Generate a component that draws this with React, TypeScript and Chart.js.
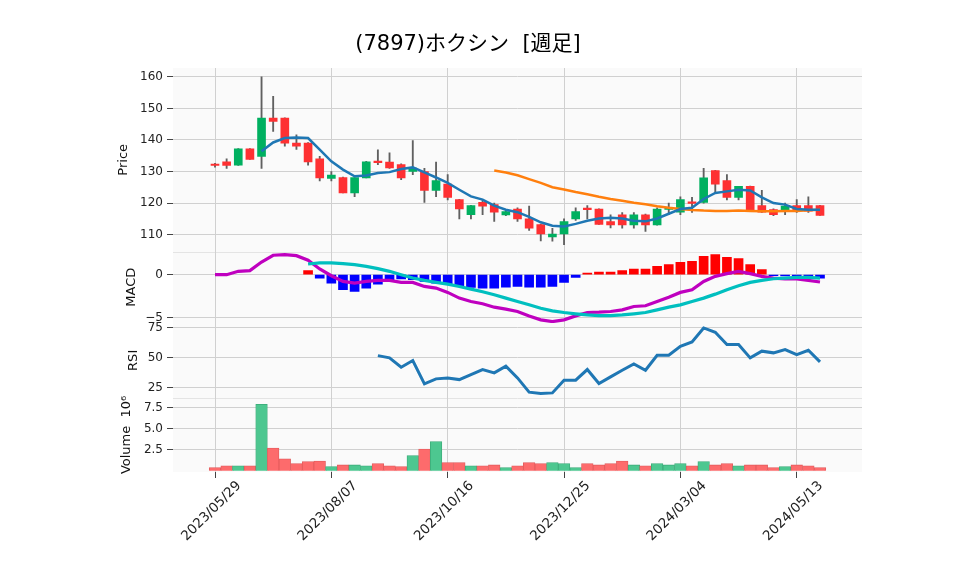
import React, { useEffect, useRef } from 'react';
import { Chart, registerables } from 'chart.js';

Chart.register(...registerables);

const TITLE = '(7897)ホクシン  [週足]';

const xTickPos = [0, 10, 20, 30, 40, 50];
const xTickLabels = ['2023/05/29', '2023/08/07', '2023/10/16', '2023/12/25', '2024/03/04', '2024/05/13'];

const priceTicks = [110, 120, 130, 140, 150, 160];
const macdTicks = [-5, 0];
const rsiTicks = [25, 50, 75];
const volTicks = [2.5, 5, 7.5];

const opens = [132.1, 133.1, 132.0, 137.2, 134.8, 146.9, 146.9, 139.0, 139.0, 134.0,
  127.8, 128.1, 123.2, 128.0, 133.2, 133.0, 132.2, 130.0, 130.0, 124.0,
  126.0, 121.1, 116.3, 120.2, 119.5, 116.2, 118.1, 115.0, 113.2, 109.3,
  110.2, 115.0, 118.2, 118.1, 114.1, 116.3, 113.1, 116.3, 113.1, 118.0,
  117.1, 120.1, 120.2, 130.3, 127.1, 121.8, 125.3, 119.2, 117.9, 117.9,
  119.2, 119.2, 119.2];
const highs = [132.6, 134.0, 137.3, 137.3, 160.0, 153.8, 147.0, 141.6, 139.2, 134.8,
  130.0, 128.2, 128.1, 133.2, 136.9, 135.9, 132.4, 139.8, 131.0, 133.0,
  129.0, 121.2, 119.3, 121.0, 120.0, 118.0, 118.5, 119.0, 113.3, 112.0,
  115.0, 118.5, 119.2, 118.2, 116.3, 117.0, 117.0, 116.5, 118.5, 120.0,
  122.0, 121.8, 131.0, 130.4, 129.0, 125.3, 125.4, 124.0, 118.2, 120.0,
  121.1, 122.0, 119.3];
const lows = [131.4, 131.0, 131.9, 133.8, 131.0, 142.7, 138.0, 137.0, 132.0, 127.0,
  127.0, 123.2, 122.0, 128.0, 132.2, 131.0, 127.4, 129.0, 120.2, 122.0,
  121.0, 115.0, 115.0, 116.3, 114.2, 116.0, 114.2, 111.3, 108.0, 107.9,
  106.8, 114.5, 115.0, 113.2, 112.1, 112.0, 112.0, 111.0, 113.0, 116.3,
  116.3, 117.0, 120.0, 123.2, 121.0, 121.0, 117.9, 117.0, 116.0, 116.3,
  117.0, 117.0, 116.1];
const closes = [131.9, 131.9, 137.2, 133.8, 146.9, 145.9, 139.0, 138.0, 133.0, 128.0,
  128.9, 123.2, 128.1, 133.1, 132.8, 131.1, 128.0, 131.1, 124.0, 127.1,
  121.8, 118.1, 119.2, 119.0, 117.1, 117.3, 115.0, 112.0, 110.2, 110.2,
  114.1, 117.3, 117.9, 113.2, 113.1, 113.1, 116.3, 113.1, 118.1, 118.3,
  121.1, 119.9, 128.0, 126.0, 121.8, 125.3, 117.9, 117.1, 116.3, 119.0,
  117.4, 117.4, 116.1];

// volume in units of 10^6
const volumes = [0.38, 0.58, 0.58, 0.58, 7.88, 2.69, 1.42, 0.85, 1.08, 1.15,
  0.5, 0.69, 0.69, 0.58, 0.85, 0.58, 0.5, 1.81, 2.58, 3.46,
  0.96, 0.96, 0.58, 0.58, 0.69, 0.38, 0.58, 0.96, 0.85, 0.96,
  0.85, 0.38, 0.85, 0.69, 0.85, 1.15, 0.69, 0.58, 0.85, 0.69,
  0.85, 0.58, 1.08, 0.69, 0.85, 0.58, 0.69, 0.69, 0.38, 0.5,
  0.69, 0.58, 0.38];

const ma5 = [null, null, null, null, 136.4, 139.2, 140.6, 140.8, 140.6, 136.9,
  133.2, 130.6, 128.5, 128.7, 129.5, 129.8, 130.8, 131.3, 129.7, 128.1,
  126.4, 124.2, 122.1, 121.1, 119.2, 117.9, 117.1, 115.6, 113.9, 112.8,
  112.6, 113.4, 114.4, 115.1, 115.3, 115.1, 114.4, 114.2, 115.1, 116.6,
  118.1, 118.5, 121.3, 123.2, 123.7, 124.2, 124.0, 121.8, 120.0, 119.5,
  118.1, 117.9, 117.9];

const ma25 = [null, null, null, null, null, null, null, null, null, null,
  null, null, null, null, null, null, null, null, null, null,
  null, null, null, null, 130.3, 129.7, 128.8, 127.6, 126.4, 125.0,
  124.3, 123.5, 122.8, 122.0, 121.3, 120.7, 120.1, 119.6, 119.0, 118.5,
  118.1, 117.8, 117.6, 117.5, 117.5, 117.6, 117.5, 117.4, 117.4, 117.5,
  117.5, 117.7, 117.9];

const macd = [0, 0, 0.39, 0.47, 1.47, 2.25, 2.33, 2.2, 1.67, 0.66,
  -0.12, -0.78, -0.97, -0.78, -0.66, -0.66, -0.89, -0.89, -1.36, -1.55,
  -2.05, -2.71, -3.1, -3.37, -3.76, -3.99, -4.26, -4.77, -5.23, -5.43,
  -5.23, -4.77, -4.38, -4.34, -4.26, -4.07, -3.68, -3.6, -3.1, -2.6,
  -2.05, -1.74, -0.78, -0.19, 0.12, 0.39, 0.12, -0.19, -0.39, -0.5,
  -0.5, -0.66, -0.85];

const signal = [null, null, null, null, null, null, null, null, 1.24, 1.36,
  1.36, 1.28, 1.16, 0.97, 0.7, 0.39, 0, -0.39, -0.66, -0.89,
  -1.09, -1.36, -1.67, -1.98, -2.33, -2.71, -3.1, -3.49, -3.88, -4.19,
  -4.38, -4.53, -4.65, -4.73, -4.73, -4.65, -4.53, -4.38, -4.07, -3.76,
  -3.49, -3.1, -2.71, -2.25, -1.74, -1.28, -0.89, -0.66, -0.47, -0.39,
  -0.31, -0.31, -0.39];

const histogram = [null, null, null, null, null, null, null, null, 0.47, -0.39,
  -0.97, -1.74, -1.94, -1.55, -1.09, -0.58, -0.5, -0.58, -0.78, -0.97,
  -1.09, -1.28, -1.47, -1.55, -1.55, -1.43, -1.36, -1.43, -1.43, -1.36,
  -0.89, -0.31, 0.19, 0.31, 0.31, 0.47, 0.66, 0.66, 0.97, 1.16,
  1.43, 1.55, 2.13, 2.33, 2.02, 1.86, 1.16, 0.58, -0.12, -0.15,
  -0.2, -0.3, -0.4];

const rsi = [null, null, null, null, null, null, null, null, null, null,
  null, null, null, null, 51.9, 50, 42.2, 47.8, 28.3, 32.5,
  33.3, 31.9, 36.1, 40.3, 37.5, 43.1, 33.3, 21.4, 20.3, 20.8,
  31.4, 31.4, 40.3, 28.6, 34.2, 39.7, 45, 39.7, 52.2, 52.2,
  59.7, 63.3, 75, 71.4, 61.1, 61.1, 50, 55.6, 54.2, 56.9,
  52.8, 56.4, 46.7];

const UP = '#00b060';
const DOWN = '#fe3032';
const VOL_UP = '#4dc790';
const VOL_DOWN = '#fd6b6c';
const GRID = '#d0d0d0';
const FONT = '"DejaVu Sans", "Noto Sans CJK JP", sans-serif';

const pts = (arr: (number | null)[]) =>
  arr.map((v, i) => (v == null ? null : { x: i, y: v })).filter((p) => p !== null) as { x: number; y: number }[];

const isUp = (i: number) => closes[i] > opens[i];

const bgPlugin = {
  id: 'bgPlugin',
  beforeDraw(chart: any) {
    const { ctx, chartArea } = chart;
    ctx.save();
    ctx.fillStyle = '#fafafa';
    ctx.fillRect(chartArea.left, chartArea.top, chartArea.right - chartArea.left, chartArea.bottom - chartArea.top);
    ctx.strokeStyle = '#e4e4e4';
    ctx.lineWidth = 1;
    ['yMacd', 'yVol'].forEach((id) => {
      const s = chart.scales[id];
      if (!s) return;
      ctx.beginPath();
      ctx.moveTo(chartArea.left, Math.round(s.top) + 0.5);
      ctx.lineTo(chartArea.right, Math.round(s.top) + 0.5);
      ctx.stroke();
    });
    ctx.restore();
  },
  afterDraw(chart: any) {
    const { ctx } = chart;
    ctx.save();
    ctx.fillStyle = '#000';
    ctx.font = `21px ${FONT}`;
    ctx.textAlign = 'center';
    ctx.textBaseline = 'middle';
    ctx.fillText(TITLE, 468, 45);
    ctx.restore();
  },
};

const Y_WIDTH = 173;

function yAxis(opts: any) {
  const { ticks, min, max, weight, stackWeight, title, titlePad, fmt } = opts;
  return {
    type: 'linear',
    position: 'left',
    stack: 'panels',
    stackWeight,
    weight,
    min,
    max,
    afterBuildTicks: (s: any) => {
      s.ticks = ticks.map((v: number) => ({ value: v }));
    },
    afterFit: (s: any) => {
      s.width = Y_WIDTH;
    },
    ticks: {
      callback: fmt,
      color: '#222',
      font: { size: 12, family: FONT },
      padding: 4,
    },
    grid: { color: GRID, lineWidth: 1, tickColor: '#444', tickLength: 6, offset: false },
    border: { display: false },
    title: {
      display: true,
      text: title,
      color: '#111',
      font: { size: 13, family: FONT },
      padding: { top: titlePad, bottom: 0 },
    },
  };
}

export default function App() {
  const ref = useRef<HTMLCanvasElement>(null);

  useEffect(() => {
    if (!ref.current) return;
    const idx = opens.map((_, i) => i);

    const chart = new Chart(ref.current, {
      type: 'bar',
      data: {
        datasets: [
          {
            type: 'bar',
            label: 'wick',
            data: idx.map((i) => ({ x: i, y: [lows[i], highs[i]] })) as any,
            yAxisID: 'yPrice',
            backgroundColor: '#606060',
            barThickness: 1.2,
            grouped: false,
            order: 10,
          },
          {
            type: 'bar',
            label: 'body',
            data: idx.map((i) => ({ x: i, y: [opens[i], closes[i]] })) as any,
            yAxisID: 'yPrice',
            backgroundColor: idx.map((i) => (isUp(i) ? UP : DOWN)),
            barThickness: 8,
            minBarLength: 1.5,
            grouped: false,
            order: 9,
          },
          {
            type: 'line',
            label: 'MA5',
            data: pts(ma5),
            yAxisID: 'yPrice',
            borderColor: '#1f77b4',
            borderWidth: 2.5,
            pointRadius: 0,
            order: 2,
          },
          {
            type: 'line',
            label: 'MA25',
            data: pts(ma25),
            yAxisID: 'yPrice',
            borderColor: '#ff7f0e',
            borderWidth: 2.5,
            pointRadius: 0,
            order: 2,
          },
          {
            type: 'bar',
            label: 'hist',
            data: pts(histogram) as any,
            yAxisID: 'yMacd',
            backgroundColor: pts(histogram).map((p) => (p.y >= 0 ? '#ff0000' : '#0000ff')),
            barThickness: 9,
            grouped: false,
            order: 8,
          },
          {
            type: 'line',
            label: 'MACD',
            data: pts(macd),
            yAxisID: 'yMacd',
            borderColor: '#bf00bf',
            borderWidth: 3.2,
            pointRadius: 0,
            order: 2,
          },
          {
            type: 'line',
            label: 'Signal',
            data: pts(signal),
            yAxisID: 'yMacd',
            borderColor: '#00bfbf',
            borderWidth: 3.2,
            pointRadius: 0,
            order: 1,
          },
          {
            type: 'line',
            label: 'RSI',
            data: pts(rsi),
            yAxisID: 'yRsi',
            borderColor: '#1f77b4',
            borderWidth: 3,
            pointRadius: 0,
            order: 2,
          },
          {
            type: 'bar',
            label: 'Volume',
            data: pts(volumes) as any,
            yAxisID: 'yVol',
            backgroundColor: idx.map((i) => (isUp(i) ? VOL_UP : VOL_DOWN)),
            borderColor: idx.map((i) => (isUp(i) ? '#3aa877' : '#e05a5b')),
            borderWidth: 0.8,
            barThickness: 11.6,
            grouped: false,
            order: 8,
          },
        ] as any,
      },
      options: {
        animation: false,
        responsive: false,
        devicePixelRatio: 1,
        layout: { padding: { top: 68, right: 96, left: 0, bottom: 0 } },
        plugins: {
          legend: { display: false },
          tooltip: { enabled: false },
          title: { display: false },
        },
        scales: {
          x: {
            type: 'linear',
            min: -3.61,
            max: 55.61,
            offset: false,
            afterBuildTicks: (s: any) => {
              s.ticks = xTickPos.map((v) => ({ value: v }));
            },
            afterFit: (s: any) => {
              s.height = 103;
            },
            ticks: {
              callback: (_v: any, index: number) => xTickLabels[index],
              autoSkip: false,
              minRotation: 45,
              maxRotation: 45,
              labelOffset: 24,
              padding: 0,
              color: '#222',
              font: { size: 13.5, family: FONT },
            },
            grid: { color: GRID, lineWidth: 1, tickColor: '#444', tickLength: 6, offset: false },
            border: { display: false },
          },
          yPrice: yAxis({
            ticks: priceTicks, min: 104.6, max: 162.8, weight: 4, stackWeight: 2.5,
            title: 'Price', titlePad: 116, fmt: (v: number) => String(v),
          }),
          yMacd: yAxis({
            ticks: macdTicks, min: -5.58, max: 2.67, weight: 3, stackWeight: 0.97,
            title: 'MACD', titlePad: 124, fmt: (v: number) => (v < 0 ? '\u2212' + Math.abs(v) : String(v)),
          }),
          yRsi: yAxis({
            ticks: rsiTicks, min: 16.7, max: 79.2, weight: 2, stackWeight: 1.02,
            title: 'RSI', titlePad: 126, fmt: (v: number) => String(v),
          }),
          yVol: yAxis({
            ticks: volTicks, min: -0.15, max: 8.66, weight: 1, stackWeight: 1.01,
            title: 'Volume  10\u2076', titlePad: 119, fmt: (v: number) => v.toFixed(1),
          }),
        } as any,
      },
      plugins: [bgPlugin],
    } as any);

    return () => chart.destroy();
  }, []);

  return (
    <div style={{ position: 'fixed', left: 0, top: 0, width: 958, height: 575, background: '#fff' }}>
      <canvas ref={ref} width={958} height={575} style={{ display: 'block', width: 958, height: 575 }} />
    </div>
  );
}
